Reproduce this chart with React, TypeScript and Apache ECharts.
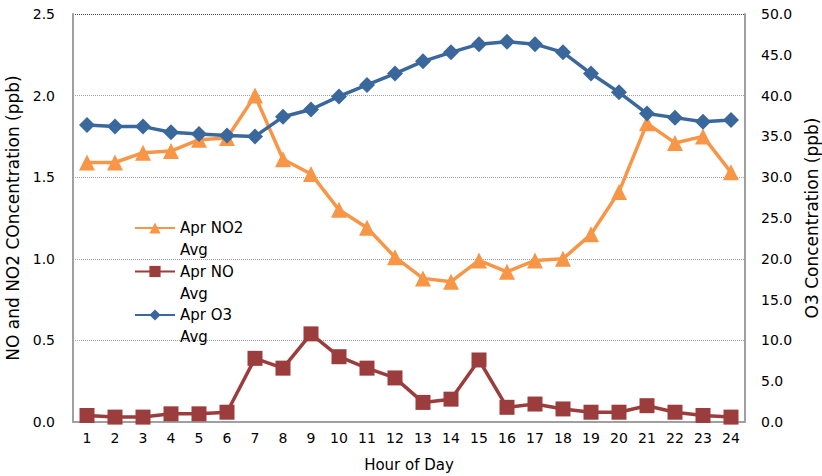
import { useEffect, useRef } from "react";
import * as echarts from "echarts";

const hours = ["1", "2", "3", "4", "5", "6", "7", "8", "9", "10", "11", "12", "13", "14", "15", "16", "17", "18", "19", "20", "21", "22", "23", "24"];

// NO2 and NO on the left axis (ppb), O3 on the right axis (ppb)
const no2Avg = [1.59, 1.59, 1.65, 1.66, 1.73, 1.74, 2.0, 1.61, 1.52, 1.3, 1.19, 1.01, 0.88, 0.86, 0.99, 0.92, 0.99, 1.0, 1.15, 1.41, 1.83, 1.71, 1.75, 1.53];
const noAvg = [0.04, 0.03, 0.03, 0.05, 0.05, 0.06, 0.39, 0.33, 0.54, 0.4, 0.33, 0.27, 0.12, 0.14, 0.38, 0.09, 0.11, 0.08, 0.06, 0.06, 0.1, 0.06, 0.04, 0.03];
const o3Avg = [36.4, 36.2, 36.2, 35.5, 35.3, 35.1, 35.0, 37.4, 38.3, 39.9, 41.3, 42.7, 44.2, 45.3, 46.3, 46.6, 46.3, 45.3, 42.7, 40.4, 37.8, 37.3, 36.8, 37.0];

const FONT = "DejaVu Sans";

export default function App() {
  const ref = useRef<HTMLDivElement>(null);

  useEffect(() => {
    document.body.style.margin = "0";
    if (!ref.current) return;
    const chart = echarts.init(ref.current, null, { renderer: "svg" });
    const axisLabel = { fontFamily: FONT, fontSize: 14, color: "#000" };
    const legendBase = {
      orient: "vertical",
      left: 129,
      itemWidth: 40,
      itemHeight: 14,
      itemGap: 23.5,
      textStyle: { fontFamily: FONT, fontSize: 15, color: "#000", lineHeight: 20 },
    };
    chart.setOption({
      animation: false,
      backgroundColor: "#fff",
      textStyle: { fontFamily: FONT },
      grid: { left: 73, right: 77, top: 14, bottom: 54, outerBoundsMode: "none" },
      // the legend text wraps in two lines: series name, then "Avg" beneath it
      legend: [
        {
          ...legendBase,
          top: 213,
          formatter: (name: string) => name.replace(" Avg", ""),
        },
        {
          ...legendBase,
          top: 235,
          selectedMode: false,
          formatter: () => "Avg",
          lineStyle: { opacity: 0 },
          itemStyle: { opacity: 0 },
        },
      ],
      xAxis: {
        type: "category",
        data: hours,
        name: "Hour of Day",
        nameLocation: "middle",
        nameGap: 35,
        nameTextStyle: { fontFamily: FONT, fontSize: 15, color: "#000" },
        axisTick: { show: false },
        axisLine: { lineStyle: { color: "#a0a0a0", width: 2 } },
        axisLabel: { ...axisLabel, margin: 9 },
      },
      yAxis: [
        {
          type: "value",
          min: 0,
          max: 2.5,
          interval: 0.5,
          name: "NO and NO2 COncentration (ppb)",
          nameLocation: "middle",
          nameGap: 45,
          nameTextStyle: { fontFamily: FONT, fontSize: 17, color: "#000" },
          axisLine: { show: true, lineStyle: { color: "#a0a0a0", width: 2 } },
          axisTick: { show: false },
          axisLabel: { ...axisLabel, margin: 18, formatter: (v: number) => v.toFixed(1) },
          splitLine: {
            show: true,
            lineStyle: {
              type: "dotted",
              width: 1,
              color: ["#a0a0a0", "#a0a0a0", "#a0a0a0", "#a0a0a0", "#a0a0a0", "#404040"],
            },
          },
        },
        {
          type: "value",
          min: 0,
          max: 50,
          interval: 5,
          position: "right",
          name: "O3 Concentration (ppb)",
          nameLocation: "middle",
          nameGap: 56,
          nameTextStyle: { fontFamily: FONT, fontSize: 17, color: "#000" },
          axisLine: { show: true, lineStyle: { color: "#a0a0a0", width: 2 } },
          axisTick: { show: false },
          axisLabel: { ...axisLabel, margin: 16, formatter: (v: number) => v.toFixed(1) },
          splitLine: { show: false },
        },
      ],
      series: [
        {
          name: "Apr NO2 Avg",
          type: "line",
          data: no2Avg,
          yAxisIndex: 0,
          symbol: "triangle",
          symbolSize: 16,
          lineStyle: { color: "#F79646", width: 3.5 },
          itemStyle: { color: "#F79646" },
        },
        {
          name: "Apr NO Avg",
          type: "line",
          data: noAvg,
          yAxisIndex: 0,
          symbol: "rect",
          symbolSize: 15,
          lineStyle: { color: "#9C3D3D", width: 3.5 },
          itemStyle: { color: "#9C3D3D" },
        },
        {
          name: "Apr O3 Avg",
          type: "line",
          data: o3Avg,
          yAxisIndex: 1,
          symbol: "diamond",
          symbolSize: 16,
          lineStyle: { color: "#3A679C", width: 3.5 },
          itemStyle: { color: "#3A679C" },
          z: 3,
        },
      ],
    });
    return () => chart.dispose();
  }, []);

  return <div ref={ref} style={{ width: 822, height: 476 }} />;
}
